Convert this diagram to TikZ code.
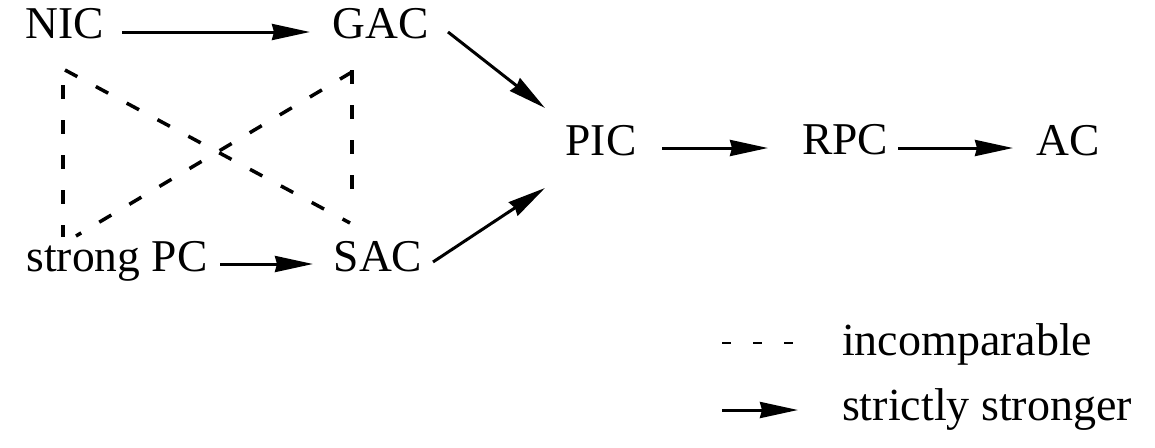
\documentclass[tikz,border=0pt]{standalone}
\usepackage{fontspec}
\setmainfont{Liberation Serif}
\usetikzlibrary{arrows.meta,calc}
\begin{document}
\begin{tikzpicture}[x=1pt,y=-1pt,
  lbl/.style={inner sep=0pt,outer sep=0pt,text height=0.655em,text depth=0pt,font=\fontsize{45.5}{54}\selectfont},
  leg/.style={inner sep=0pt,outer sep=0pt,anchor=base west,font=\fontsize{46}{54}\selectfont},
  strict/.style={line width=3pt,-{Stealth[length=38pt,width=16pt,inset=2pt]}},
  incomp/.style={line width=3.5pt,dash pattern=on 14pt off 21pt},
  incomplegend/.style={line width=2pt,dash pattern=on 9pt off 22pt}]
\useasboundingbox (0,0) rectangle (1155,447);
\node[lbl] (nic) at (65,35) {NIC};
\node[lbl] (gac) at (381,35) {GAC};
\node[lbl] (pic) at (601,152) {PIC};
\node[lbl] (rpc) at (845,151) {RPC};
\node[lbl] (ac) at (1068,152) {AC};
\node[lbl] (spc) at (117,268) {strong PC};
\node[lbl] (sac) at (378,268) {SAC};
% strictly stronger
\draw[strict] ($(nic)+(57,-3)$) -- ($(gac)+(-71,-3)$);
\draw[strict] ($(gac)+(67,-3)$) -- ($(pic)+(-56,-44)$);
\draw[strict] ($(sac)+(55,-6)$) -- ($(pic)+(-56,36)$);
\draw[strict] ($(pic)+(61,-4)$) -- ($(rpc)+(-77,-3)$);
\draw[strict] ($(rpc)+(53,-3)$) -- ($(ac)+(-55,-4)$);
\draw[strict] ($(spc)+(103,-4)$) -- ($(sac)+(-65,-4)$);
% incomparable
\draw[incomp] ($(nic)+(-2,50)$) -- ($(spc)+(-54,-31)$);
\draw[incomp] ($(nic)+(0,35)$) -- ($(sac)+(-28,-45)$);
\draw[incomp] ($(gac)+(-29,35)$) -- ($(sac)+(-26,-78)$);
\draw[incomp] ($(gac)+(-29,37)$) -- ($(spc)+(-41,-32)$);
% legend
\coordinate (la1) at (722,343);
\coordinate (la2) at (798,343);
\coordinate (lb1) at (722,410);
\coordinate (lb2) at (798,410);
\draw[incomplegend] (la1) -- (la2);
\draw[strict] (lb1) -- (lb2);
\node[leg] (lti) at (842,355) {incomparable};
\node[leg] (lts) at (842,420) {strictly stronger};
\end{tikzpicture}
\end{document}
